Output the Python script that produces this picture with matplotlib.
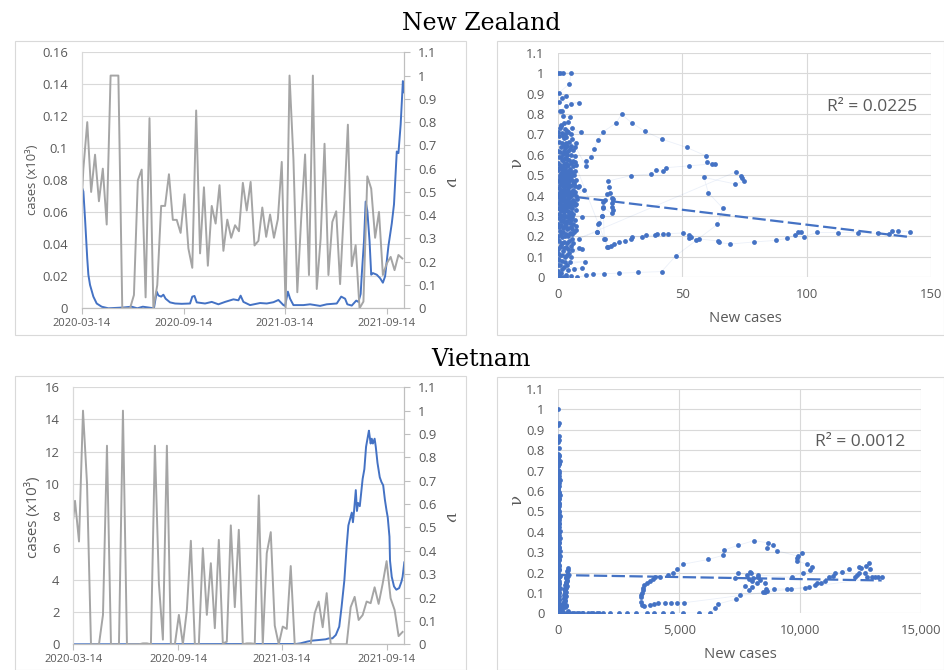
import numpy as np
import matplotlib
matplotlib.use('Agg')
import matplotlib.pyplot as plt
import matplotlib.dates as mdates
from matplotlib.patches import Rectangle
from matplotlib.ticker import FuncFormatter

# ---- data -------------------------------------------------------------
start = np.datetime64('2020-03-14')
end_day = 580
tick_dates = ['2020-03-14', '2020-09-14', '2021-03-14', '2021-09-14']

# weekly nu values (day 0, then every 7 days from day 3)
v_days = [0] + list(range(3, 3 + 7 * 83, 7))
nz_v = [0.46, 0.60, 0.80, 0.50, 0.66, 0.46, 0.60, 0.36, 1.0, 1.0,
        1.0, 0.0, 0.0, 0.0, 0.057, 0.55, 0.596, 0.047, 0.817, 0.0,
        0.10, 0.44, 0.44, 0.576, 0.38, 0.38, 0.324, 0.49, 0.257, 0.174,
        0.85, 0.236, 0.52, 0.183, 0.44, 0.364, 0.529, 0.247, 0.381, 0.303,
        0.357, 0.331, 0.539, 0.42, 0.543, 0.27, 0.29, 0.433, 0.307, 0.403,
        0.303, 0.383, 0.629, 0.0, 1.0, 0.643, 0.069, 0.386, 0.661, 0.143,
        1.0, 0.083, 0.30, 0.707, 0.143, 0.371, 0.417, 0.104, 0.43, 0.789,
        0.181, 0.271, 0.0, 0.029, 0.567, 0.514, 0.303, 0.414, 0.143, 0.193,
        0.221, 0.164, 0.229, 0.214]
vn_v = [0.54, 0.614, 0.44, 1.0, 0.69, 0.0, 0.0, 0.0, 0.126, 0.85,
        0.0, 0.0, 0.0, 1.0, 0.0, 0.0, 0.0, 0.0, 0.004, 0.004,
        0.0, 0.85, 0.26, 0.02, 0.85, 0.0, 0.0, 0.126, 0.0, 0.147,
        0.443, 0.0, 0.0, 0.411, 0.126, 0.347, 0.069, 0.447, 0.004, 0.011,
        0.509, 0.159, 0.49, 0.0, 0.004, 0.004, 0.002, 0.637, 0.0, 0.39,
        0.48, 0.08, 0.0, 0.076, 0.066, 0.335, 0.0, 0.0, 0.0, 0.0,
        0.0, 0.133, 0.183, 0.073, 0.219, 0.0, 0.0, 0.0, 0.0, 0.0,
        0.159, 0.203, 0.104, 0.125, 0.183, 0.176, 0.244, 0.173, 0.258, 0.356,
        0.197, 0.147, 0.035, 0.053]

# daily new cases (x10^3), read at turning points
nz_case_days = [0, 1, 3, 6, 10, 12, 15, 21, 27, 36, 48, 75, 90, 100, 110, 120,
                130, 135, 138, 143, 147, 151, 159, 168, 180, 195, 199, 203, 207,
                222, 234, 246, 258, 273, 282, 286, 291, 303, 321, 333, 345, 354,
                363, 366, 371, 375, 381, 399, 411, 429, 441, 459, 467, 474, 478,
                486, 494, 498, 502, 504, 508, 511, 514, 518, 521, 524, 531, 537,
                542, 546, 552, 558, 562, 567, 570, 574, 578, 580]
nz_cases = [0.075, 0.075, 0.073, 0.056, 0.031, 0.021, 0.0146, 0.0073, 0.003,
            0.001, 0.0, 0.0005, 0.001, 0.0, 0.001, 0.0005, 0.0, 0.0104, 0.008,
            0.0073, 0.0085, 0.006, 0.0037, 0.003, 0.0028, 0.003, 0.0073,
            0.0077, 0.0037, 0.003, 0.004, 0.0025, 0.004, 0.0056, 0.005,
            0.0079, 0.004, 0.002, 0.0033, 0.003, 0.0038, 0.0052, 0.002,
            0.0015, 0.0104, 0.006, 0.002, 0.002, 0.0025, 0.0015, 0.0025,
            0.003, 0.0073, 0.006, 0.0025, 0.0017, 0.0048, 0.004, 0.009,
            0.021, 0.042, 0.0667, 0.061, 0.042, 0.021, 0.022, 0.021, 0.0188,
            0.016, 0.020, 0.039, 0.053, 0.065, 0.098, 0.097, 0.115, 0.142,
            0.135]
vn_case_days = [0, 390, 398, 410, 419, 431, 442, 448, 454, 460, 466, 470, 475,
                479, 482, 485, 488, 490, 492, 495, 497, 499, 502, 507, 510, 513,
                517, 518, 521, 523, 525, 528, 530, 533, 537, 540, 543, 546, 549,
                551, 554, 555, 558, 562, 566, 571, 575, 577, 580]
vn_cases = [0.0, 0.02, 0.06, 0.17, 0.23, 0.27, 0.31, 0.37, 0.37, 0.58, 1.1,
            2.3, 4.0, 6.1, 7.4, 7.8, 8.2, 7.6, 8.3, 9.6, 8.3, 8.8, 8.6, 10.3,
            10.9, 12.3, 13.1, 13.3, 12.5, 12.8, 12.5, 12.8, 12.3, 11.3, 10.4,
            10.1, 9.9, 9.0, 8.3, 7.9, 6.7, 5.2, 4.2, 3.6, 3.4, 3.5, 3.9, 4.2,
            5.1]

# scatter: (new cases, nu)
nz_scatter = np.array([
    (0.0, 1.0), (0.8, 1.0), (1.9, 1.0), (5.2, 1.0), (4.4, 0.946), (0.3, 0.905),
    (2.95, 0.89), (1.6, 0.876), (0.2, 0.86), (8.3, 0.856), (5.2, 0.848),
    (3.1, 0.84), (0.7, 0.816), (1.6, 0.816), (2.0, 0.79), (4.7, 0.786),
    (4.0, 0.759), (2.4, 0.757), (1.1, 0.745), (0.6, 0.73), (5.4, 0.73),
    (9.1, 0.711), (0.0, 0.713), (1.3, 0.705), (2.6, 0.70), (3.5, 0.715),
    (11.1, 0.545), (11.0, 0.569), (13.2, 0.587), (14.5, 0.63), (15.8, 0.674),
    (18.1, 0.713), (23.2, 0.755), (25.5, 0.798), (29.7, 0.755), (34.9, 0.715),
    (41.6, 0.677), (51.7, 0.636), (59.4, 0.595), (59.8, 0.566), (61.8, 0.556),
    (63.2, 0.556), (52.8, 0.546), (43.4, 0.537), (42.0, 0.519), (39.2, 0.525),
    (37.3, 0.506), (29.1, 0.498), (19.9, 0.471), (20.4, 0.444), (20.8, 0.414),
    (19.7, 0.408), (18.8, 0.378), (18.1, 0.37), (21.5, 0.387), (22.2, 0.382),
    (21.5, 0.362), (21.5, 0.346), (21.9, 0.33), (21.5, 0.313), (17.9, 0.346),
    (17.7, 0.30), (16.4, 0.264), (15.6, 0.223), (18.8, 0.186), (19.7, 0.15),
    (0.9, 0.74), (2.9, 0.725), (4.1, 0.71), (1.7, 0.69), (3.0, 0.685),
    (5.1, 0.70), (0.2, 0.665), (1.3, 0.66), (2.4, 0.65), (3.6, 0.645),
    (4.7, 0.63), (6.6, 0.64), (0.5, 0.615), (2.1, 0.62), (3.1, 0.61),
    (5.3, 0.60), (6.9, 0.595), (0.9, 0.59), (1.9, 0.575), (3.6, 0.58),
    (5.1, 0.56), (0.0, 0.56), (2.2, 0.555), (4.0, 0.55), (6.0, 0.545),
    (0.4, 0.535), (1.5, 0.53), (2.0, 0.52), (3.9, 0.52), (4.5, 0.51),
    (6.8, 0.52), (0.8, 0.50), (1.9, 0.495), (2.9, 0.49), (4.3, 0.485),
    (5.0, 0.495), (5.9, 0.47), (0.2, 0.475), (1.0, 0.47), (2.3, 0.465),
    (3.2, 0.47), (4.0, 0.46), (7.0, 0.475), (0.7, 0.45), (1.7, 0.445),
    (2.7, 0.45), (3.6, 0.455), (5.5, 0.45), (6.9, 0.445), (0.2, 0.435),
    (1.0, 0.43), (1.9, 0.425), (2.9, 0.43), (4.1, 0.425), (5.1, 0.42),
    (6.3, 0.415), (0.9, 0.405), (2.0, 0.40), (2.8, 0.41), (3.8, 0.40),
    (4.9, 0.395), (5.6, 0.405), (6.9, 0.42), (0.5, 0.38), (1.6, 0.375),
    (2.5, 0.37), (3.5, 0.38), (4.4, 0.37), (5.3, 0.36), (6.3, 0.37),
    (0.2, 0.365), (1.0, 0.35), (2.2, 0.345), (3.2, 0.345), (4.1, 0.35),
    (5.0, 0.355), (7.1, 0.36), (0.5, 0.335), (1.5, 0.34), (2.8, 0.33),
    (3.8, 0.325), (5.2, 0.32), (7.0, 0.33), (0.3, 0.31), (1.2, 0.30),
    (2.1, 0.305), (3.6, 0.30), (4.4, 0.29), (5.7, 0.295), (0.9, 0.275),
    (2.3, 0.27), (3.0, 0.26), (4.6, 0.265), (6.1, 0.26), (0.3, 0.245),
    (1.7, 0.24), (3.5, 0.235), (5.0, 0.245), (7.3, 0.25), (1.0, 0.21),
    (2.7, 0.20), (4.1, 0.20), (5.5, 0.21), (7.0, 0.23), (0.0, 0.185),
    (1.4, 0.17), (3.4, 0.17), (6.0, 0.17), (0.5, 0.15), (2.2, 0.145),
    (4.0, 0.14), (5.4, 0.135), (0.0, 0.12), (1.4, 0.11), (3.4, 0.11),
    (5.1, 0.10), (0.4, 0.085), (2.6, 0.075), (3.6, 0.06), (0.0, 0.06),
    (1.6, 0.04), (4.0, 0.035), (0.3, 0.015),
    (0.4, 0.69), (2.1, 0.68), (3.2, 0.66), (4.3, 0.665), (5.6, 0.675),
    (7.1, 0.66), (1.0, 0.64), (2.7, 0.635), (4.0, 0.62), (5.0, 0.645),
    (0.0, 0.62), (6.1, 0.625), (1.8, 0.605), (3.7, 0.60), (0.2, 0.59),
    (1.4, 0.575), (2.5, 0.585), (3.1, 0.56), (4.4, 0.575), (5.8, 0.57),
    (6.6, 0.565), (0.7, 0.55), (1.9, 0.54), (2.8, 0.53), (3.6, 0.545),
    (4.7, 0.53), (5.5, 0.515), (7.0, 0.55), (0.0, 0.525), (1.1, 0.51),
    (2.3, 0.505), (3.3, 0.515), (4.1, 0.50), (6.2, 0.50), (0.5, 0.49),
    (1.6, 0.485), (2.6, 0.475), (3.5, 0.49), (4.5, 0.47), (5.3, 0.48),
    (6.4, 0.46), (7.8, 0.44), (0.0, 0.47), (1.2, 0.455), (2.1, 0.44),
    (3.0, 0.45), (3.9, 0.435), (4.8, 0.445), (5.9, 0.43), (0.6, 0.42),
    (1.7, 0.41), (2.5, 0.425), (3.4, 0.405), (4.4, 0.415), (10.5, 0.427),
    (7.2, 0.40), (0.0, 0.41), (8.5, 0.445), (0.3, 0.395), (1.3, 0.385),
    (2.2, 0.39), (3.1, 0.375), (4.0, 0.385), (5.0, 0.37), (5.9, 0.38),
    (7.5, 0.385), (0.8, 0.36), (1.9, 0.355), (2.8, 0.35), (3.7, 0.36),
    (4.6, 0.345), (5.5, 0.34), (6.6, 0.355), (0.0, 0.34), (1.1, 0.325),
    (2.4, 0.32), (3.3, 0.33), (4.2, 0.315), (6.0, 0.31), (9.7, 0.297),
    (1.6, 0.30), (2.9, 0.295), (4.9, 0.30), (0.4, 0.29), (1.9, 0.28),
    (3.6, 0.275), (5.3, 0.28), (6.8, 0.28), (0.0, 0.26), (1.2, 0.255),
    (2.6, 0.25), (4.1, 0.24), (5.7, 0.235), (0.6, 0.225), (2.0, 0.22),
    (3.3, 0.21), (4.8, 0.215), (6.2, 0.22), (0.0, 0.2), (1.4, 0.195),
    (0.3, 0.18), (2.4, 0.175), (4.2, 0.18), (5.6, 0.19), (1.0, 0.16),
    (3.0, 0.15), (5.0, 0.155), (0.0, 0.14), (1.8, 0.13), (4.2, 0.12),
    (8.4, 0.145), (0.5, 0.11), (9.4, 0.137), (2.8, 0.10), (0.0, 0.09),
    (1.5, 0.08), (4.6, 0.075), (10.7, 0.077), (0.6, 0.06), (2.2, 0.05),
    (9.4, 0.044), (6.5, 0.04), (0.0, 0.03), (1.2, 0.02), (3.0, 0.01),
    (0.0, 0.0), (0.8, 0.0), (1.9, 0.0), (3.2, 0.0), (5.0, 0.005),
    (7.7, 0.0), (11.1, 0.01), (14.1, 0.015), (18.4, 0.018), (24.4, 0.02),
    (32.1, 0.024), (41.6, 0.028), (47.4, 0.106), (64.1, 0.259), (66.3, 0.338),
    (60.4, 0.414), (58.7, 0.489), (71.3, 0.457), (74.9, 0.471), (74.1, 0.485),
    (73.5, 0.498), (71.6, 0.517), (8.2, 0.19), (15.4, 0.223), (16.1, 0.261),
    (17.7, 0.30), (18.1, 0.338), (18.5, 0.188), (20.0, 0.15), (21.1, 0.155),
    (22.6, 0.163), (24.6, 0.171), (27.0, 0.178), (29.1, 0.188), (29.5, 0.199),
    (33.8, 0.199), (35.2, 0.206), (38.8, 0.206), (39.7, 0.21), (42.3, 0.21),
    (44.0, 0.214), (50.4, 0.217), (52.6, 0.207), (53.3, 0.199), (52.6, 0.191),
    (55.4, 0.184), (56.5, 0.188), (64.2, 0.178), (64.8, 0.171), (69.2, 0.163),
    (78.8, 0.173), (87.8, 0.181), (92.3, 0.191), (95.5, 0.207), (96.7, 0.223),
    (97.8, 0.223), (99.1, 0.199), (104.3, 0.22), (112.7, 0.219), (120.6, 0.219),
    (128.6, 0.215), (133.2, 0.212), (134.6, 0.228), (136.8, 0.228),
    (141.5, 0.223)])

vn_scatter = np.array([
    (0, 1.0), (10, 0.935), (5, 0.925), (20, 0.87), (0, 0.86), (15, 0.85),
    (0, 0.84), (10, 0.81), (0, 0.78), (25, 0.77), (5, 0.76), (0, 0.75),
    (15, 0.73), (0, 0.72), (30, 0.70), (0, 0.68), (10, 0.66), (0, 0.65),
    (20, 0.64), (0, 0.62), (5, 0.61), (0, 0.60), (30, 0.59), (0, 0.57),
    (10, 0.56), (0, 0.55), (20, 0.54), (0, 0.53), (5, 0.52), (0, 0.51),
    (40, 0.50), (0, 0.49), (15, 0.48), (0, 0.47), (10, 0.46), (0, 0.45),
    (25, 0.44), (0, 0.43), (5, 0.42), (0, 0.41), (20, 0.40), (0, 0.38),
    (60, 0.37), (0, 0.36), (10, 0.35), (0, 0.33), (30, 0.32), (0, 0.30),
    (50, 0.28), (0, 0.27), (15, 0.26), (0, 0.25), (35, 0.23), (0, 0.22),
    (10, 0.21), (0, 0.20), (25, 0.18), (0, 0.17), (40, 0.15), (0, 0.14),
    (20, 0.12), (0, 0.11), (10, 0.10), (0, 0.08), (30, 0.07), (0, 0.05),
    (15, 0.04), (0, 0.03), (25, 0.02), (0, 0.01), (0, 0.0),
    (40, 0.775), (0, 0.765), (60, 0.745), (20, 0.735), (0, 0.705),
    (45, 0.69), (20, 0.675), (0, 0.67), (55, 0.655), (0, 0.635), (35, 0.625),
    (0, 0.615), (15, 0.595), (50, 0.58), (0, 0.575), (25, 0.565), (0, 0.545),
    (45, 0.535), (10, 0.525), (0, 0.505), (30, 0.495), (0, 0.485),
    (60, 0.475), (20, 0.465), (0, 0.455), (40, 0.445), (0, 0.435),
    (15, 0.425), (0, 0.415), (50, 0.405), (0, 0.395), (25, 0.385),
    (0, 0.375), (10, 0.365), (0, 0.355), (40, 0.345), (0, 0.34), (20, 0.325),
    (0, 0.315), (70, 0.305), (0, 0.29), (30, 0.285), (0, 0.275), (10, 0.265),
    (0, 0.24), (45, 0.235), (0, 0.225), (20, 0.215), (0, 0.19), (55, 0.185),
    (0, 0.175), (30, 0.16), (0, 0.155), (15, 0.145), (0, 0.13), (50, 0.125),
    (0, 0.115), (25, 0.105), (0, 0.09), (40, 0.085), (0, 0.075), (10, 0.065),
    (0, 0.055), (35, 0.045), (0, 0.035), (60, 0.025), (0, 0.015), (20, 0.005),
    (414, 0.22), (380, 0.205), (350, 0.19), (400, 0.185), (330, 0.18),
    (310, 0.172), (360, 0.165), (300, 0.155), (330, 0.147), (280, 0.14),
    (300, 0.13), (250, 0.12), (270, 0.11), (290, 0.10), (240, 0.09),
    (260, 0.08), (220, 0.068), (280, 0.06), (200, 0.05), (150, 0.04),
    (300, 0.035), (120, 0.03), (100, 0.02), (80, 0.012), (200, 0.005),
    (420, 0.21), (390, 0.195), (370, 0.178), (340, 0.16), (320, 0.15),
    (350, 0.135), (310, 0.125), (280, 0.115), (330, 0.105), (260, 0.095),
    (300, 0.085), (230, 0.075), (270, 0.065), (240, 0.055), (180, 0.045),
    (330, 0.04), (260, 0.03), (140, 0.02), (400, 0.01), (120, 0.0),
    (90, 0.005),
    (207, 0), (345, 0), (441, 0), (552, 0), (648, 0), (758, 0), (868, 0),
    (965, 0), (1034, 0), (1241, 0), (1337, 0), (1448, 0), (1586, 0),
    (1696, 0), (1834, 0), (2137, 0), (2509, 0), (2854, 0), (3213, 0),
    (3654, 0), (3958, 0), (4343, 0), (4715, 0), (5143, 0), (5819, 0),
    (6274, 0), (6480, 0.024), (6618, 0.046), (7335, 0.069), (7514, 0.09),
    (7721, 0.134), (7900, 0.114), (8000, 0.13), (8203, 0.15), (8272, 0.18),
    (8341, 0.163), (8548, 0.147), (8589, 0.117), (8480, 0.106), (8548, 0.104),
    (8620, 0.11), (8920, 0.119), (9444, 0.119), (9620, 0.119), (10202, 0.124),
    (10381, 0.13), (10616, 0.139), (10685, 0.15), (10850, 0.15), (11030, 0.16),
    (11181, 0.18), (11347, 0.183), (11443, 0.196), (11719, 0.202),
    (12022, 0.215), (12270, 0.18), (12340, 0.188), (12450, 0.196),
    (12450, 0.228), (12500, 0.22), (12725, 0.232), (12863, 0.245),
    (12891, 0.215), (12680, 0.196), (12753, 0.18), (12960, 0.18),
    (13097, 0.18), (13235, 0.176), (13373, 0.176),
    (5211, 0.052), (4894, 0.052), (4646, 0.052), (4412, 0.052), (4136, 0.049),
    (3957, 0.046), (3791, 0.042), (3557, 0.036), (3447, 0.041), (3405, 0.057),
    (3419, 0.078), (3440, 0.09), (3461, 0.101), (3490, 0.112), (3516, 0.122),
    (3543, 0.139), (3654, 0.147), (3791, 0.16), (3902, 0.166), (4012, 0.176),
    (4205, 0.179), (4522, 0.188), (4729, 0.196), (4894, 0.215), (5170, 0.241),
    (6204, 0.264), (6825, 0.285), (6852, 0.31), (7418, 0.333), (8093, 0.356),
    (8672, 0.346), (8644, 0.321), (8865, 0.333), (9030, 0.307), (9927, 0.28),
    (10065, 0.295), (9885, 0.269), (9858, 0.258), (10271, 0.241),
    (10478, 0.225), (10409, 0.212), (10100, 0.2), (9650, 0.176),
    (8272, 0.188), (8050, 0.175), (7950, 0.196), (7928, 0.204), (7790, 0.188),
    (7445, 0.199), (7307, 0.171), (7886, 0.166), (8000, 0.16)])

nz_trend = (-0.001458, 0.4036)
vn_trend = (-1.98e-06, 0.1876)
nz_r2 = 'R² = 0.0225'
vn_r2 = 'R² = 0.0012'

# ---- style ------------------------------------------------------------
BLUE = '#4472C4'
GREY = '#A5A5A5'
TXT = '#595959'
GRID = '#D9D9D9'
AXIS = '#BFBFBF'
plt.rcParams['font.family'] = ['Open Sans', 'DejaVu Sans']

fig = plt.figure(figsize=(9.45, 6.7), dpi=100)


def px_rect(x0, y0, x1, y1):
    return [x0 / 945, 1 - y1 / 670, (x1 - x0) / 945, (y1 - y0) / 670]


def fmt_g(x, pos):
    return f'{round(x, 4):g}'


def frame(x0, y0, x1, y1):
    fig.add_artist(Rectangle((x0 / 945, 1 - y1 / 670), (x1 - x0) / 945,
                             (y1 - y0) / 670, transform=fig.transFigure,
                             fill=False, ec=GRID, lw=0.8))


def line_panel(rect, case_days, cases, v, ymax, ystep, lab_xy, lab_size, nu_xy):
    ax = fig.add_axes(rect)
    ax2 = ax.twinx()
    d = start + np.array(case_days).astype('timedelta64[D]')
    ax.plot(d, cases, color=BLUE, lw=1.4, zorder=3)
    vd = start + np.array(v_days).astype('timedelta64[D]')
    ax2.plot(vd, v, color=GREY, lw=1.4)
    ax.set_xlim(start, start + np.timedelta64(end_day, 'D'))
    ax.set_ylim(0, ymax)
    ax.set_yticks(np.round(np.arange(0, ymax + ystep / 2, ystep), 4))
    ax.yaxis.set_major_formatter(FuncFormatter(fmt_g))
    ax2.set_ylim(0, 1.1)
    ax2.set_yticks(np.round(np.arange(0, 1.15, 0.1), 2))
    ax2.yaxis.set_major_formatter(FuncFormatter(fmt_g))
    ax.set_xticks([np.datetime64(t) for t in tick_dates])
    ax.xaxis.set_major_formatter(mdates.DateFormatter('%Y-%m-%d'))
    ax.grid(axis='y', color=GRID, lw=0.8)
    ax.set_axisbelow(True)
    for a in (ax, ax2):
        a.spines['top'].set_visible(False)
        a.spines['left'].set_color(GRID)
        a.spines['bottom'].set_color(AXIS)
        a.spines['right'].set_color(AXIS)
    ax.tick_params(axis='y', length=0, pad=10, labelsize=9.4, labelcolor=TXT)
    ax.tick_params(axis='x', length=4, color=AXIS, pad=3, labelsize=8,
                   labelcolor=TXT)
    ax2.tick_params(axis='y', length=4, color=AXIS, pad=6, labelsize=9.4,
                    labelcolor=TXT)
    fig.text(lab_xy[0] / 945, 1 - lab_xy[1] / 670, 'cases (x10³)', rotation=90,
             ha='center', va='center', color=TXT, fontsize=lab_size)
    fig.text(nu_xy[0] / 945, 1 - nu_xy[1] / 670, 'ν', rotation=270,
             ha='center', va='center', color=TXT, fontsize=12,
             family='DejaVu Serif')


def scatter_panel(rect, pts, trend, r2, xmax, xstep, thousands, r2_xy, nu_xy, xl_xy):
    ax = fig.add_axes(rect)
    ax.plot(pts[:, 0], pts[:, 1], color=BLUE, lw=0.6, alpha=0.1, zorder=2)
    ax.scatter(pts[:, 0], pts[:, 1], s=12, color=BLUE, lw=0, zorder=3)
    xs = np.array([0, pts[:, 0].max()])
    ax.plot(xs, trend[0] * xs + trend[1], color=BLUE, lw=1.6,
            ls=(0, (6, 2)), zorder=4)
    ax.set_xlim(0, xmax)
    ax.set_ylim(0, 1.1)
    ax.set_xticks(np.arange(0, xmax + 1, xstep))
    ax.set_yticks(np.round(np.arange(0, 1.15, 0.1), 2))
    ax.yaxis.set_major_formatter(FuncFormatter(fmt_g))
    if thousands:
        ax.xaxis.set_major_formatter(FuncFormatter(lambda x, p: f'{int(x):,}'))
    else:
        ax.xaxis.set_major_formatter(FuncFormatter(fmt_g))
    ax.grid(True, color=GRID, lw=0.8)
    ax.set_axisbelow(True)
    for s in ax.spines.values():
        s.set_visible(False)
    ax.tick_params(length=0, labelsize=9.4, labelcolor=TXT)
    ax.tick_params(axis='y', pad=10)
    ax.tick_params(axis='x', pad=8)
    fig.text(r2_xy[0] / 945, 1 - r2_xy[1] / 670, r2, ha='center', va='center',
             color=TXT, fontsize=12.5)
    fig.text(nu_xy[0] / 945, 1 - nu_xy[1] / 670, 'ν', rotation=90,
             ha='center', va='center', color=TXT, fontsize=12,
             family='DejaVu Serif')
    fig.text(xl_xy[0] / 945, 1 - xl_xy[1] / 670, 'New cases', ha='center',
             va='center', color=TXT, fontsize=10.7)


# chart area frames
frame(14.7, 40.7, 465.7, 335)
frame(497.3, 41, 944, 335)
frame(14.7, 376, 465.7, 669.5)
frame(497.3, 377.3, 944, 669.5)

line_panel(px_rect(81.7, 52.3, 404, 308.3), nz_case_days, nz_cases, nz_v,
           0.16, 0.02, (32, 180), 9.4, (450, 182))
line_panel(px_rect(73.3, 387.3, 404.3, 644.3), vn_case_days, vn_cases, vn_v,
           16, 2, (33, 517), 10.8, (450, 517))
scatter_panel(px_rect(558.3, 52.7, 930.7, 277.3), nz_scatter, nz_trend, nz_r2,
              150, 50, False, (872, 107), (517, 163), (745, 318))
scatter_panel(px_rect(558.3, 389, 921, 613.3), vn_scatter, vn_trend, vn_r2,
              15000, 5000, True, (860, 442), (517, 500), (740, 655))

fig.text(481 / 945, 1 - 30 / 670, 'New Zealand', ha='center', va='baseline',
         family='DejaVu Serif', fontsize=17, color='black')
fig.text(481 / 945, 1 - 366 / 670, 'Vietnam', ha='center', va='baseline',
         family='DejaVu Serif', fontsize=17, color='black')

fig.savefig('out.png', dpi=100)
